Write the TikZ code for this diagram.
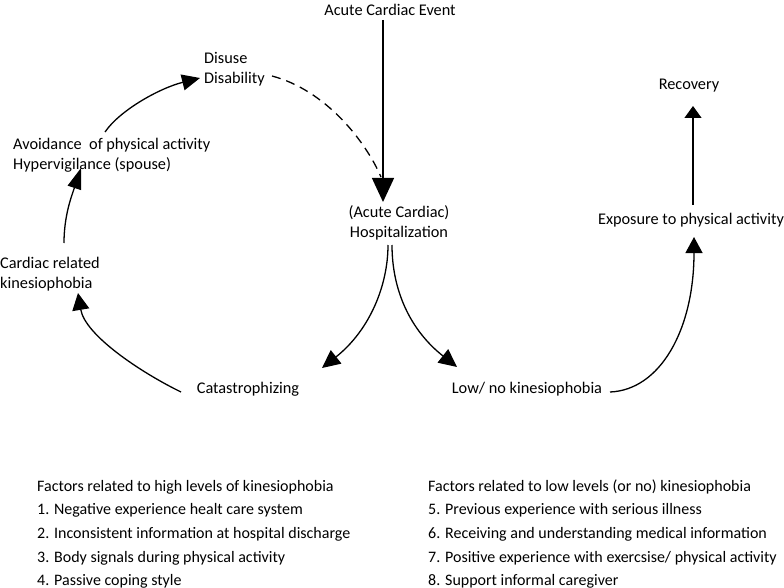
\documentclass[tikz,border=0pt]{standalone}
\usepackage{fontspec}
\setmainfont{Carlito}
\usetikzlibrary{arrows.meta,calc}
\begin{document}
\begin{tikzpicture}[x=1pt,y=-1pt,
  lbl/.style={inner sep=0pt,yshift=-2pt,font=\fontsize{16.3}{19.5}\selectfont},
  lst/.style={inner sep=0pt,yshift=-2pt,anchor=west,font=\fontsize{16}{18}\selectfont},
  conn/.style={line width=1.3pt},
  tip/.style 2 args={conn,-{Triangle[length=#1pt,width=#2pt]}}]
\useasboundingbox (0,0) rectangle (784,588);
% nodes
\node[lbl] (event) at (390,8) {Acute Cardiac Event};
\node[lbl,align=center] (hosp) at (399,221) {(Acute Cardiac)\\Hospitalization};
\node[lbl,align=left,anchor=west] (disuse) at (204,67) {Disuse\\Disability};
\node[lbl,align=left,anchor=west] (avoid) at (13,153) {Avoidance\ \ of physical activity\\Hypervigilance (spouse)};
\node[lbl,align=left,anchor=west] (cardiac) at (0,272) {Cardiac related\\kinesiophobia};
\node[lbl] (catas) at (248,387) {Catastrophizing};
\node[lbl] (low) at (527,387) {Low/ no kinesiophobia};
\node[lbl] (expo) at (691,218) {Exposure to physical activity};
\node[lbl] (recov) at (689,84) {Recovery};
% connectors
\draw[tip={24}{22}] ($(event.center)+(-7,10)$) -- ($(hosp.center)+(-16,-21)$);
\draw[conn,dash pattern=on 9pt off 6pt] ($(disuse.west)+(68,7)$) .. controls (325,90) and (365,140) .. ($(hosp.center)+(-18,-46)$);
\draw[tip={18}{16}] ($(avoid.west)+(92,-23)$) .. controls (120,110) and (160,88) .. ($(disuse.west)+(-4,9)$);
\draw[tip={21}{14}] ($(cardiac.west)+(64,-31)$) .. controls (64,215) and (72,195) .. ($(avoid.west)+(68,13)$);
\draw[tip={17}{17}] ($(catas.center)+(-67,3)$) .. controls (140,372) and (85,335) .. ($(cardiac.west)+(78,19)$);
\draw[tip={18}{17}] ($(hosp.center)+(-11,22)$) .. controls (388,285) and (370,330) .. ($(catas.center)+(74,-21)$);
\draw[tip={18}{17}] ($(hosp.center)+(-7,22)$) .. controls (392,290) and (410,330) .. ($(low.center)+(-70,-22)$);
\draw[tip={16}{17}] ($(low.center)+(83,3)$) .. controls (660,390) and (694,330) .. ($(expo.center)+(3,17)$);
\draw[tip={12}{17}] ($(expo.center)+(2,-15)$) -- ($(recov.center)+(4,20)$);
% factor lists
\node[lst] (h0) at (37,485) {Factors related to high levels of kinesiophobia};
\node[lst] (h1) at (37,508) {1. Negative experience healt care system};
\node[lst] (h2) at (37,532) {2. Inconsistent information at hospital discharge};
\node[lst] (h3) at (37,556) {3. Body signals during physical activity};
\node[lst] (h4) at (37,579) {4. Passive coping style};
\node[lst] (l0) at (428,485) {Factors related to low levels (or no) kinesiophobia};
\node[lst] (l1) at (428,508) {5. Previous experience with serious illness};
\node[lst] (l2) at (428,532) {6. Receiving and understanding medical information};
\node[lst] (l3) at (428,556) {7. Positive experience with exercsise/ physical activity};
\node[lst] (l4) at (428,579) {8. Support informal caregiver};
\end{tikzpicture}
\end{document}
